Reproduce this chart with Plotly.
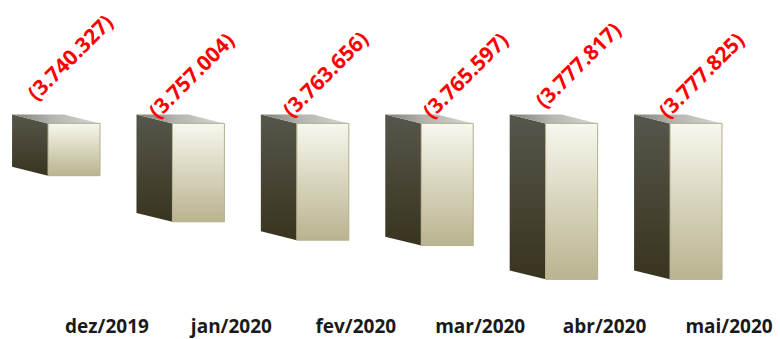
import plotly.graph_objects as go

# dados
meses = ['dez/2019', 'jan/2020', 'fev/2020', 'mar/2020', 'abr/2020', 'mai/2020']
valores = [-3740327, -3757004, -3763656, -3765597, -3777817, -3777825]
rotulos = ['(3.740.327)', '(3.757.004)', '(3.763.656)', '(3.765.597)', '(3.777.817)', '(3.777.825)']

# eixo e efeito 3D
BASE = -3721400          # topo do eixo (as barras penduram daqui)
K = 357.05               # unidades por pixel (vertical)
PX = 124.4               # pixels por categoria
OFF, LARG = -0.474, 0.418
DX, DY = 0.289, 9 * K

# ajuste manual dos rótulos (px): centro relativo à borda esquerda da face frontal / ao topo
rot_dx = [22, 19, 28, 44, 32, 31]
rot_dy = [67, 49, 50, 49, 59, 49]

fig = go.Figure()

for i, v in enumerate(valores):
    xl = i + OFF
    xr = xl + LARG
    # face lateral escura
    fig.add_trace(go.Scatter(
        x=[xl - DX, xl, xl, xl - DX, xl - DX],
        y=[BASE + DY, BASE, v, v + DY, BASE + DY],
        fill='toself', mode='lines', line=dict(width=0),
        fillgradient=dict(type='vertical', colorscale=[[0, '#38341f'], [1, '#57564b']]),
        hoverinfo='skip', showlegend=False))
    # face superior
    fig.add_trace(go.Scatter(
        x=[xl - DX, xr - DX, xr, xl, xl - DX],
        y=[BASE + DY, BASE + DY, BASE, BASE, BASE + DY],
        fill='toself', mode='lines', line=dict(width=0),
        fillgradient=dict(type='horizontal', colorscale=[[0, '#7f7e76'], [0.45, '#b4b4b0'], [1, '#d6d6d2']]),
        hoverinfo='skip', showlegend=False))
    # face frontal
    fig.add_trace(go.Scatter(
        x=[xl, xr, xr, xl, xl],
        y=[BASE, BASE, v, v, BASE],
        fill='toself', mode='lines', line=dict(width=1, color='#b3ae8e'),
        fillgradient=dict(type='vertical', colorscale=[[0, '#bab38f'], [0.55, '#dbd8c2'], [1, '#f8f7ee']]),
        name=meses[i], hovertext=rotulos[i], hoverinfo='text', showlegend=False))
    # rótulo
    fig.add_annotation(
        x=xl + rot_dx[i] / PX, y=BASE + rot_dy[i] * K, text=rotulos[i], textangle=-45,
        xanchor='center', yanchor='middle', showarrow=False,
        font=dict(family='Open Sans', size=21, color='#ff0000', weight='bold'))

fig.update_xaxes(range=[-0.860, 5.410], tickvals=list(range(len(meses))), ticktext=meses,
                 showgrid=False, zeroline=False, showline=False, ticklabelstandoff=8,
                 tickfont=dict(family='Open Sans', size=19, color='#1a1a1a', weight='bold'))
fig.update_yaxes(range=[BASE - 184 * K, BASE + 125 * K], visible=False, showgrid=False)

fig.update_layout(
    width=780, height=339,
    margin=dict(l=0, r=0, t=0, b=30),
    plot_bgcolor='white', paper_bgcolor='white',
)

fig.write_html("out.html", config={'displayModeBar': False},
               post_script="document.body.style.margin='0';")
